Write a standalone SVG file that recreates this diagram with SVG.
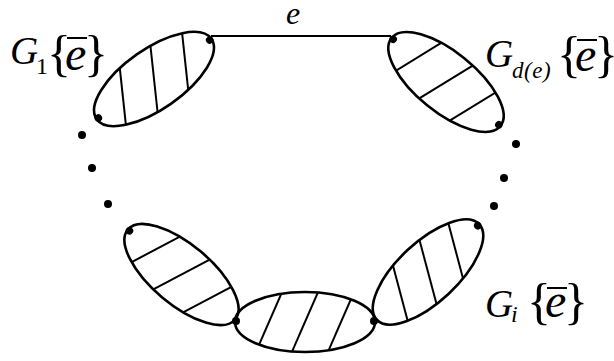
<svg xmlns="http://www.w3.org/2000/svg" width="614" height="361" viewBox="0 0 614 361">
<style>
.bg{fill:#fff}
.ell{fill:none;stroke:#000;stroke-width:2.6}
.hatch{stroke:#000;stroke-width:2;fill:none}
.dot{fill:#000}
.edge{stroke:#000;stroke-width:2;fill:none}
.it{font-family:"Liberation Serif","Times New Roman",serif;font-style:italic;fill:#000}
.rm{font-family:"Liberation Serif","Times New Roman",serif;fill:#000}
.bar{stroke:#000;stroke-width:2}
</style>
<defs>
<clipPath id="clipE"><ellipse cx="0" cy="0" rx="70" ry="30"/></clipPath>
</defs>
<rect class="bg" x="0" y="0" width="614" height="361"/>

<g id="connectors">
<line class="edge" x1="211" y1="36" x2="391" y2="36"/>
<text class="it" x="286" y="24" font-size="32">e</text>
</g>

<g id="ellipsis-dots">
<circle class="dot" cx="82" cy="135" r="4"/>
<circle class="dot" cx="92" cy="168" r="4"/>
<circle class="dot" cx="108" cy="204" r="4"/>
<circle class="dot" cx="516" cy="144" r="4"/>
<circle class="dot" cx="504" cy="178" r="4"/>
<circle class="dot" cx="494" cy="206" r="4"/>
</g>

<g id="node-G1">
<g transform="translate(154,79) rotate(-35)">
<g clip-path="url(#clipE)">
<line class="hatch" x1="-56.8" y1="35" x2="-18.2" y2="-35"/>
<line class="hatch" x1="-19.3" y1="35" x2="19.3" y2="-35"/>
<line class="hatch" x1="18.2" y1="35" x2="56.8" y2="-35"/>
</g>
<ellipse class="ell" cx="0" cy="0" rx="70" ry="30"/>
<circle class="dot" cx="-68" cy="0" r="3.8"/>
<circle class="dot" cx="68" cy="0" r="3.8"/>
</g>
<text class="it" x="10" y="64" font-size="39">G</text>
<text class="rm" x="36" y="74" font-size="24">1</text>
<text class="rm" x="47" y="70" font-size="50">{</text>
<text class="it" x="65" y="70" font-size="48">e</text>
<line class="bar" x1="67" y1="38" x2="87" y2="38"/>
<text class="rm" x="84" y="70" font-size="50">}</text>
</g>

<g id="node-Gde">
<g transform="translate(446,82) rotate(39)">
<g clip-path="url(#clipE)">
<line class="hatch" x1="-51.3" y1="37.7" x2="-24.7" y2="-37.7"/>
<line class="hatch" x1="-13.3" y1="37.7" x2="13.3" y2="-37.7"/>
<line class="hatch" x1="23.7" y1="37.7" x2="50.3" y2="-37.7"/>
</g>
<ellipse class="ell" cx="0" cy="0" rx="70" ry="30"/>
<circle class="dot" cx="-68" cy="0" r="3.8"/>
<circle class="dot" cx="68" cy="0" r="3.8"/>
</g>
<text class="it" x="485" y="67" font-size="39">G</text>
<text class="it" x="512" y="78" font-size="23" letter-spacing="0.5">d<tspan class="rm">(</tspan>e<tspan class="rm">)</tspan></text>
<text class="rm" x="557" y="71" font-size="50">{</text>
<text class="it" x="575" y="71" font-size="48">e</text>
<line class="bar" x1="577" y1="40" x2="597" y2="40"/>
<text class="rm" x="594" y="71" font-size="50">}</text>
</g>

<g id="node-G3">
<g transform="translate(181.5,274.5) rotate(40)">
<g clip-path="url(#clipE)">
<line class="hatch" x1="-52" y1="37" x2="-22" y2="-37"/>
<line class="hatch" x1="-15" y1="37" x2="15" y2="-37"/>
<line class="hatch" x1="22" y1="37" x2="52" y2="-37"/>
</g>
<ellipse class="ell" cx="0" cy="0" rx="70" ry="30"/>
<circle class="dot" cx="-68" cy="0" r="3.8"/>
</g>
</g>

<g id="node-G4">
<g transform="translate(305,322)">
<g clip-path="url(#clipE)">
<line class="hatch" x1="-52" y1="36.6" x2="-20" y2="-36.6"/>
<line class="hatch" x1="-16" y1="36.6" x2="16" y2="-36.6"/>
<line class="hatch" x1="20" y1="36.6" x2="52" y2="-36.6"/>
</g>
<ellipse class="ell" cx="0" cy="0" rx="70" ry="30"/>
<circle class="dot" cx="-69" cy="-1" r="4"/>
<circle class="dot" cx="69" cy="-1" r="4"/>
</g>
</g>

<g id="node-Gi">
<g transform="translate(428,272) rotate(-43)">
<g clip-path="url(#clipE)">
<line class="hatch" x1="-55.3" y1="35.2" x2="-17.7" y2="-35.2"/>
<line class="hatch" x1="-18.8" y1="35.2" x2="18.8" y2="-35.2"/>
<line class="hatch" x1="17.7" y1="35.2" x2="55.3" y2="-35.2"/>
</g>
<ellipse class="ell" cx="0" cy="0" rx="70" ry="30"/>
<circle class="dot" cx="68" cy="0" r="3.8"/>
</g>
<text class="it" x="485" y="317" font-size="39">G</text>
<text class="it" x="511" y="322" font-size="24">i</text>
<text class="rm" x="527" y="318" font-size="50">{</text>
<text class="it" x="545" y="317" font-size="48">e</text>
<line class="bar" x1="547" y1="288" x2="567" y2="288"/>
<text class="rm" x="564" y="318" font-size="50">}</text>
</g>
</svg>
